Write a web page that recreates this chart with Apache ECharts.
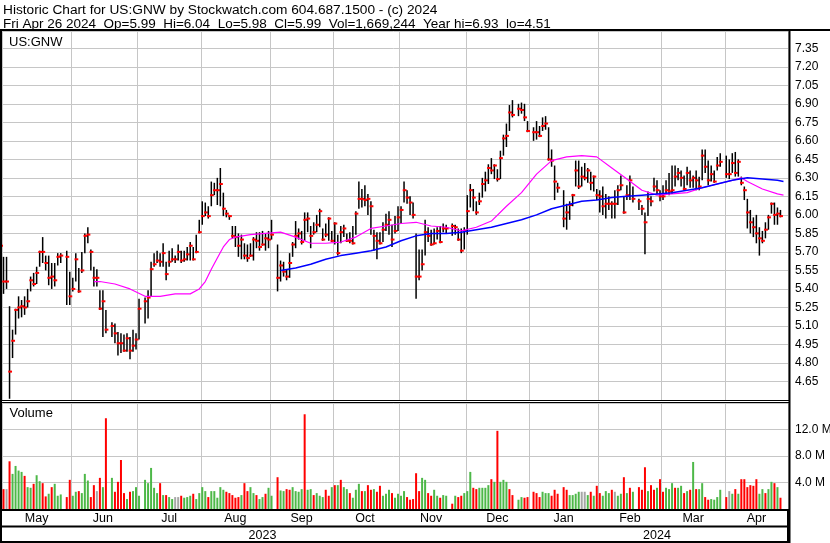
<!DOCTYPE html>
<html>
<head>
<meta charset="utf-8">
<script src="https://cdn.jsdelivr.net/npm/echarts@6/dist/echarts.min.js"></script>
<style>
html,body{margin:0;padding:0;background:#fff;}
#chart{width:830px;height:543px;}
</style>
</head>
<body>
<div id="chart"></div>
<script>
// ---------------- DATA ----------------
const titleLine1 = 'Historic Chart for US:GNW by Stockwatch.com 604.687.1500 - (c) 2024';
const titleLine2 = 'Fri Apr 26 2024  Op=5.99  Hi=6.04  Lo=5.98  Cl=5.99  Vol=1,669,244  Year hi=6.93  lo=4.51';
const symbolLabel = 'US:GNW';
const volumeLabel = 'Volume';
const monthNames = ['Jan','Feb','Mar','Apr','May','Jun','Jul','Aug','Sep','Oct','Nov','Dec'];

// trading-day slots (weekdays), holidays are empty slots
const holidays = ['2023-05-29','2023-06-19','2023-07-04','2023-09-04','2023-11-23','2023-12-25',
                  '2024-01-01','2024-01-15','2024-02-19','2024-03-29'];

const high = [
5.86,5.66,5.66,5.26,5.07,5.24,5.34,5.31,5.34,5.40,
5.50,5.53,5.58,5.71,5.82,5.67,5.67,5.61,5.61,5.69,
5.69,null,5.71,5.54,5.49,5.69,5.57,5.70,5.85,5.90,
5.72,5.58,5.56,5.39,5.39,5.23,null,5.13,5.12,5.05,
5.04,5.03,5.04,5.01,5.07,5.04,5.32,null,5.33,5.39,
5.62,5.69,5.71,5.69,5.77,5.62,5.71,5.73,5.67,5.76,
5.71,5.71,5.74,5.78,5.74,5.84,5.96,6.11,6.10,6.07,
6.27,6.26,6.30,6.38,6.18,6.04,6.00,5.91,5.91,5.85,
5.84,5.77,5.76,5.77,5.82,5.86,5.86,5.87,5.85,5.87,
5.96,null,5.76,5.63,5.62,5.56,5.69,5.78,5.95,5.89,
5.87,6.02,6.02,5.91,5.94,6.00,6.05,5.89,5.93,5.98,
5.87,5.94,5.84,5.91,5.92,5.85,5.86,5.91,6.03,6.27,
6.21,6.24,6.17,6.11,5.88,5.86,5.86,5.94,6.01,6.03,
5.92,5.99,6.07,6.07,6.27,6.20,6.15,6.10,5.85,5.72,
5.72,5.96,5.90,5.88,5.89,5.90,5.91,5.93,5.92,null,
5.93,5.92,5.89,5.89,5.90,6.16,6.25,6.21,6.11,6.18,
6.30,6.35,6.41,6.46,6.41,6.37,6.52,6.65,6.74,6.89,
6.93,null,6.90,6.91,6.90,6.76,null,6.71,6.76,6.72,
6.79,6.80,6.71,6.53,6.40,6.26,null,6.20,6.09,6.11,
6.17,6.44,6.44,6.39,6.42,6.38,6.35,6.32,6.21,6.20,
6.23,6.17,6.15,6.11,6.20,6.24,6.32,6.15,6.24,6.32,
6.23,null,6.13,6.08,6.02,6.19,6.15,6.30,6.28,6.20,
6.24,6.28,6.34,6.40,6.40,6.38,6.36,6.32,6.39,6.36,
6.32,6.36,6.31,6.53,6.53,6.44,6.40,6.36,6.47,6.50,
null,6.48,6.45,6.50,6.51,6.45,6.31,6.23,6.13,6.04,
5.98,6.00,5.90,5.87,5.94,6.00,6.10,6.10,6.06,6.04
];
const low = [
5.36,5.36,5.40,4.51,4.84,5.03,5.16,5.17,5.19,5.25,
5.38,5.42,5.44,5.58,5.61,5.55,5.43,5.40,5.42,5.59,
5.61,null,5.27,5.27,5.38,5.46,5.37,5.53,5.69,5.77,
5.55,5.42,5.42,5.23,5.01,5.04,null,5.01,4.96,4.86,
4.88,4.89,4.89,4.83,4.89,4.91,4.99,null,5.12,5.16,
5.34,5.58,5.61,5.58,5.58,5.47,5.58,5.62,5.61,5.63,
5.61,5.62,5.63,5.63,5.63,5.69,5.85,5.92,5.99,5.97,
6.07,6.16,6.08,6.07,5.99,5.98,5.96,5.81,5.74,5.66,
5.64,5.64,5.62,5.66,5.63,5.73,5.71,5.75,5.71,5.73,
5.80,null,5.38,5.46,5.50,5.47,5.49,5.66,5.73,5.80,
5.76,5.79,5.86,5.73,5.84,5.86,5.90,5.79,5.82,5.79,
5.78,5.76,5.67,5.77,5.82,5.78,5.77,5.76,5.84,6.05,
6.06,6.07,6.00,5.84,5.71,5.64,5.76,5.78,5.87,5.84,
5.74,5.85,5.87,5.93,6.10,6.09,6.00,5.97,5.32,5.47,
5.55,5.67,5.78,5.75,5.76,5.80,5.77,5.86,5.85,null,
5.83,5.84,5.79,5.69,5.72,5.84,6.06,6.03,6.00,6.08,
6.14,6.19,6.25,6.33,6.29,6.27,6.29,6.48,6.55,6.68,
6.79,null,6.80,6.82,6.76,6.67,null,6.60,6.61,6.63,
6.68,6.69,6.44,6.39,6.12,6.18,null,5.90,5.88,5.96,
6.07,6.23,6.21,6.23,6.28,6.26,6.20,6.19,6.12,6.02,
6.00,5.97,6.04,5.97,5.97,6.08,6.20,6.01,6.12,6.12,
6.10,null,6.04,6.00,5.68,5.99,6.07,6.19,6.17,6.11,
6.12,6.17,6.16,6.17,6.23,6.28,6.23,6.20,6.24,6.22,
6.22,6.20,6.20,6.28,6.34,6.24,6.27,6.26,6.36,6.39,
null,6.30,6.29,6.34,6.31,6.31,6.24,6.12,5.89,5.85,
5.82,5.77,5.67,5.77,5.81,5.88,6.01,5.92,5.92,5.98
];
const close = [
5.75,5.46,5.46,4.73,4.98,5.23,5.25,5.26,5.25,5.30,
5.47,5.44,5.53,5.70,5.70,5.61,5.49,5.50,5.47,5.66,
5.67,null,5.66,5.34,5.40,5.64,5.38,5.55,5.83,5.84,
5.70,5.49,5.49,5.24,5.30,5.07,null,5.10,5.04,4.96,
4.96,4.90,5.00,4.90,4.94,4.99,5.24,null,5.30,5.33,
5.56,5.60,5.63,5.62,5.69,5.52,5.62,5.64,5.64,5.70,
5.63,5.64,5.68,5.75,5.64,5.70,5.86,5.99,6.02,5.99,
6.16,6.20,6.20,6.25,6.05,6.01,5.99,5.83,5.82,5.75,
5.80,5.67,5.65,5.67,5.80,5.79,5.74,5.76,5.81,5.80,
5.84,null,5.49,5.59,5.54,5.50,5.61,5.76,5.83,5.85,
5.78,5.96,5.97,5.83,5.86,5.92,6.03,5.80,5.84,5.97,
5.79,5.93,5.69,5.86,5.89,5.79,5.79,5.77,6.01,6.13,
6.13,6.12,6.13,6.07,5.83,5.79,5.77,5.88,5.92,5.96,
5.80,5.87,5.98,6.04,6.20,6.14,6.10,6.00,5.50,5.50,
5.60,5.86,5.83,5.76,5.77,5.87,5.78,5.89,5.89,null,
5.91,5.90,5.80,5.71,5.87,6.03,6.20,6.14,6.02,6.11,
6.25,6.28,6.38,6.36,6.40,6.29,6.46,6.62,6.64,6.83,
6.81,null,6.86,6.85,6.79,6.68,null,6.67,6.67,6.64,
6.72,6.74,6.45,6.44,6.27,6.22,null,5.97,6.02,6.08,
6.16,6.36,6.23,6.31,6.30,6.36,6.26,6.31,6.16,6.15,
6.07,6.09,6.09,6.09,6.09,6.20,6.24,6.02,6.16,6.28,
6.13,null,6.11,6.05,5.94,6.13,6.11,6.23,6.20,6.15,
6.15,6.20,6.19,6.20,6.31,6.34,6.30,6.21,6.34,6.28,
6.30,6.28,6.23,6.48,6.39,6.28,6.33,6.27,6.40,6.43,
null,6.33,6.33,6.42,6.34,6.43,6.26,6.20,6.02,5.94,
5.90,5.85,5.81,5.79,5.88,5.98,6.09,6.00,6.01,5.99
];
// volume in millions of shares
const volume = [
2.0,3.0,3.0,7.2,5.3,6.5,5.8,5.6,5.0,3.3,
3.2,3.8,5.1,4.2,3.9,1.9,2.3,3.3,3.8,2.0,
2.2,null,1.8,4.4,2.0,2.6,2.7,2.4,5.3,4.3,
1.8,3.6,2.7,4.7,3.3,13.7,null,4.7,2.6,4.1,
7.4,2.4,1.5,2.6,2.7,3.3,2.0,null,4.4,3.9,
6.2,3.2,2.4,3.9,2.1,2.1,1.8,1.5,1.8,1.8,
2.0,1.7,1.8,2.0,2.3,1.5,2.4,3.3,2.7,1.8,
2.7,2.7,1.7,3.3,2.9,2.6,2.4,2.1,1.7,1.8,
2.1,3.9,2.7,3.3,2.4,2.1,1.5,1.8,2.3,3.2,
2.0,null,4.8,2.8,2.7,3.0,2.9,3.3,2.7,2.6,
3.0,14.3,2.9,3.0,2.1,2.4,2.0,1.8,2.9,2.0,
3.3,3.6,3.6,4.4,3.3,3.0,2.4,1.7,2.9,3.8,
2.7,2.7,3.6,2.9,3.0,2.6,3.5,2.0,2.3,2.9,
2.4,1.7,2.3,2.0,2.7,1.8,1.4,1.5,5.4,2.7,
4.7,4.4,2.4,2.0,2.9,2.0,1.7,2.1,2.0,null,
0.8,2.0,1.8,2.0,2.4,2.7,5.6,3.2,3.0,3.2,
3.2,3.2,3.6,4.5,4.1,11.8,4.1,4.4,4.1,3.0,
2.1,null,1.4,1.8,1.7,1.8,null,2.6,2.4,1.8,
2.6,2.4,2.4,2.0,2.9,2.3,null,3.3,2.9,2.1,
2.1,2.3,2.6,2.6,2.6,2.1,2.6,2.0,3.5,2.4,
2.0,2.7,2.4,2.9,2.6,2.0,2.3,4.8,2.4,3.2,
2.6,null,3.3,2.9,6.3,2.7,3.6,2.9,3.2,4.5,
2.6,3.2,3.0,3.9,3.2,3.2,3.5,2.4,2.7,2.9,
7.1,3.0,3.0,3.9,1.8,1.4,1.5,1.4,1.8,2.9,
null,1.8,2.7,2.3,3.0,2.3,4.5,4.5,3.3,3.6,
3.5,4.5,2.3,3.0,2.4,3.0,4.1,3.9,3.3,1.7
];
// u = close up (green), d = close down (red), n = unchanged (grey), - = holiday
const volDir =
 'ndnduuuudu' + 'uduudduduu' + 'u-dduuduuu' + 'ddndud-udd' + 'dduduuu-uu' +
 'uuududuunn' + 'duuuduuuud' + 'uuuuuddddd' + 'udduuduudu' + 'u-duudduuu' +
 'uduuduuudd' + 'ududuuduuu' + 'duddudduuu' + 'duuuuddddd' + 'uudduuduu-' +
 'dudduuuddu' + 'uuududuuud' + 'd-uudd-ddd' + 'uuuddd-ddu' + 'uuunnududd' +
 'uuudnuudud' + 'u-ddduddud' + 'duuuduudud' + 'uduudduuuu' + '-dnududddd' +
 'dduuduudud';

// moving averages
const maShort = [
['2023-06-12',5.46],['2023-06-14',5.46],['2023-06-21',5.44],['2023-06-28',5.40],['2023-07-05',5.34],
['2023-07-12',5.34],['2023-07-19',5.36],['2023-07-26',5.36],['2023-07-31',5.40],['2023-08-02',5.46],
['2023-08-04',5.56],['2023-08-08',5.65],['2023-08-10',5.74],['2023-08-14',5.80],['2023-08-16',5.82],
['2023-08-23',5.84],['2023-08-30',5.85],['2023-09-06',5.86],['2023-09-13',5.82],['2023-09-20',5.77],
['2023-09-27',5.77],['2023-10-04',5.78],['2023-10-11',5.82],['2023-10-18',5.89],['2023-10-25',5.91],
['2023-11-01',5.93],['2023-11-08',5.94],['2023-11-15',5.91],['2023-11-22',5.90],['2023-11-29',5.87],
['2023-12-06',5.90],['2023-12-13',5.95],['2023-12-20',6.07],['2023-12-27',6.18],['2024-01-03',6.33],
['2024-01-10',6.44],['2024-01-17',6.47],['2024-01-24',6.48],['2024-01-31',6.47],['2024-02-07',6.38],
['2024-02-14',6.29],['2024-02-21',6.20],['2024-02-28',6.16],['2024-03-06',6.17],['2024-03-13',6.18],
['2024-03-20',6.22],['2024-03-27',6.25],['2024-04-03',6.28],['2024-04-08',6.30],['2024-04-10',6.27],
['2024-04-17',6.21],['2024-04-24',6.17],['2024-04-26',6.16]
];
const maLong = [
['2023-09-06',5.55],['2023-09-13',5.57],['2023-09-20',5.60],['2023-09-27',5.64],['2023-10-04',5.67],
['2023-10-11',5.69],['2023-10-18',5.71],['2023-10-25',5.74],['2023-11-01',5.79],['2023-11-08',5.83],
['2023-11-15',5.85],['2023-11-22',5.85],['2023-11-29',5.86],['2023-12-06',5.88],['2023-12-13',5.90],
['2023-12-20',5.93],['2023-12-27',5.96],['2024-01-03',6.00],['2024-01-10',6.05],['2024-01-17',6.08],
['2024-01-24',6.11],['2024-01-31',6.12],['2024-02-07',6.14],['2024-02-14',6.15],['2024-02-21',6.16],
['2024-02-28',6.17],['2024-03-06',6.18],['2024-03-13',6.20],['2024-03-20',6.22],['2024-03-27',6.25],
['2024-04-03',6.28],['2024-04-10',6.30],['2024-04-17',6.29],['2024-04-24',6.28],['2024-04-26',6.27]
];

// ---------------- BUILD ----------------
const dates = [];
for (let t = Date.UTC(2023, 3, 28); t <= Date.UTC(2024, 3, 29); t += 86400000) {
  const d = new Date(t), w = d.getUTCDay();
  if (w !== 0 && w !== 6) dates.push(d.toISOString().slice(0, 10));
}
const groups = [];
dates.forEach((d, i) => {
  const m = d.slice(0, 7);
  if (!groups.length || groups[groups.length - 1].m !== m) groups.push({ m, first: i, last: i });
  else groups[groups.length - 1].last = i;
});
const monthStart = new Set(), monthLabel = new Set();
groups.forEach((g, k) => {
  if (k === 0) return;
  monthStart.add(g.first);
  monthLabel.add(Math.floor((g.first + g.last) / 2));
});
const years = {};
dates.forEach((d, i) => { const y = d.slice(0, 4); if (!years[y]) years[y] = { first: i, last: i }; else years[y].last = i; });
const yearLabel = new Set(Object.values(years).map(g => Math.floor((g.first + g.last) / 2)));
const yearStart = years['2024'].first;

const priceData = [];
for (let i = 0; i < close.length; i++) {
  if (close[i] != null) priceData.push([i, high[i], low[i], close[i]]);
}
const dirColor = { u: '#4db848', d: '#ff0000', n: '#a6a6a6' };
const volData = dates.map((d, i) => (i < volume.length && volume[i] != null)
  ? { value: volume[i], itemStyle: { color: dirColor[volDir[i]] } } : '-');

const FONT = "'Liberation Sans', Arial, Helvetica, sans-serif";
const GRIDC = '#c6c6c6';
const L = -1, R = 42;

function catAxis(gridIndex, extra) {
  return Object.assign({
    type: 'category', gridIndex, data: dates, boundaryGap: true,
    axisLine: { show: false }, axisTick: { show: false }, axisLabel: { show: false },
    splitLine: { show: true, interval: (i) => monthStart.has(i), lineStyle: { color: GRIDC, width: 1 } }
  }, extra || {});
}

const chart = echarts.init(document.getElementById('chart'), null, { renderer: 'canvas' });
chart.setOption({
  animation: false,
  backgroundColor: '#fff',
  grid: [
    { left: L, right: R, top: 31, height: 369, containLabel: false, outerBoundsMode: 'none' },
    { left: L, right: R, top: 403, height: 106, containLabel: false, outerBoundsMode: 'none' },
    { left: L, right: R, top: 510, height: 16, containLabel: false, outerBoundsMode: 'none' },
    { left: L, right: R, top: 526, height: 16, containLabel: false, outerBoundsMode: 'none' }
  ],
  xAxis: [
    catAxis(0),
    catAxis(1),
    catAxis(2, {
      position: 'top',
      axisLabel: { show: true, inside: true, margin: 2.5, interval: (i) => monthLabel.has(i),
        formatter: (v) => monthNames[+v.slice(5, 7) - 1], fontSize: 12.5, color: '#000', fontFamily: FONT },
      splitLine: { show: true, interval: (i) => i === yearStart, lineStyle: { color: '#000', width: 2 } }
    }),
    catAxis(3, {
      position: 'top',
      axisLabel: { show: true, inside: true, margin: 3.5, interval: (i) => yearLabel.has(i),
        formatter: (v) => v.slice(0, 4), fontSize: 12.5, color: '#000', fontFamily: FONT },
      splitLine: { show: true, interval: (i) => i === yearStart, lineStyle: { color: '#000', width: 2 } }
    })
  ],
  yAxis: [
    { type: 'value', gridIndex: 0, position: 'right', min: 4.5, max: 7.49, interval: 0.15,
      axisLine: { show: false }, axisTick: { show: false },
      axisLabel: { margin: 7, fontSize: 12, color: '#000', fontFamily: FONT,
        formatter: (v) => (v < 4.6 || v > 7.4) ? '' : v.toFixed(2) },
      splitLine: { show: true, lineStyle: { color: GRIDC, width: 1 } } },
    { type: 'value', gridIndex: 1, position: 'right', min: 0, max: 16, interval: 4,
      axisLine: { show: false }, axisTick: { show: false },
      axisLabel: { margin: 7, fontSize: 12, color: '#000', fontFamily: FONT,
        formatter: (v) => (v < 1 || v > 15) ? '' : v.toFixed(1) + ' M' },
      splitLine: { show: true, lineStyle: { color: GRIDC, width: 1 } } },
    { type: 'value', gridIndex: 2, show: false },
    { type: 'value', gridIndex: 3, show: false }
  ],
  series: [
    { type: 'custom', name: 'price', xAxisIndex: 0, yAxisIndex: 0, clip: true, z: 2, silent: true,
      encode: { x: 0, y: [1, 2, 3] },
      data: priceData,
      renderItem: function (params, api) {
        const i = api.value(0);
        const ph = api.coord([i, api.value(1)]);
        const pl = api.coord([i, api.value(2)]);
        const pc = api.coord([i, api.value(3)]);
        return { type: 'group', children: [
          { type: 'line', shape: { x1: ph[0], y1: ph[1], x2: ph[0], y2: pl[1] },
            style: { stroke: '#000', lineWidth: 1.5 } },
          { type: 'rect', shape: { x: pc[0] - 1.3, y: pc[1] - 1, width: 3.8, height: 2 },
            style: { fill: '#ff0000' } }
        ] };
      } },
    { type: 'line', name: 'maShort', xAxisIndex: 0, yAxisIndex: 0, data: maShort, showSymbol: false,
      symbol: 'none', z: 3, silent: true, lineStyle: { color: '#ff00ff', width: 1.2 } },
    { type: 'line', name: 'maLong', xAxisIndex: 0, yAxisIndex: 0, data: maLong, showSymbol: false,
      symbol: 'none', z: 3, silent: true, lineStyle: { color: '#0000ff', width: 1.5 } },
    { type: 'bar', name: 'volume', xAxisIndex: 1, yAxisIndex: 1, data: volData, barWidth: 2,
      silent: true, z: 2 }
  ],
  graphic: [
    { type: 'text', x: 3, y: 3, silent: true, style: { text: titleLine1, font: "13.7px " + FONT, fill: '#000', verticalAlign: 'top', textVerticalAlign: 'top' } },
    { type: 'text', x: 3, y: 17, silent: true, style: { text: titleLine2, font: "13.5px " + FONT, fill: '#000', verticalAlign: 'top', textVerticalAlign: 'top' } },
    { type: 'text', x: 9, y: 35.5, z: 50, silent: true, style: { text: symbolLabel, font: "13px " + FONT, fill: '#000', verticalAlign: 'top', textVerticalAlign: 'top' } },
    { type: 'text', x: 9.5, y: 406.5, z: 50, silent: true, style: { text: volumeLabel, font: "13px " + FONT, fill: '#000', verticalAlign: 'top', textVerticalAlign: 'top' } },
    // frame
    { type: 'rect', z: 100, silent: true, shape: { x: 0, y: 29, width: 830, height: 2 }, style: { fill: '#000' } },
    { type: 'rect', z: 100, silent: true, shape: { x: 0, y: 29, width: 2, height: 514 }, style: { fill: '#000' } },
    { type: 'rect', z: 100, silent: true, shape: { x: 788.5, y: 29, width: 2, height: 514 }, style: { fill: '#000' } },
    { type: 'rect', z: 100, silent: true, shape: { x: 0, y: 400, width: 790, height: 1 }, style: { fill: '#000' } },
    { type: 'rect', z: 100, silent: true, shape: { x: 0, y: 402, width: 790, height: 1 }, style: { fill: '#000' } },
    { type: 'rect', z: 100, silent: true, shape: { x: 0, y: 509, width: 790, height: 2 }, style: { fill: '#000' } },
    { type: 'rect', z: 100, silent: true, shape: { x: 0, y: 525.5, width: 790, height: 2 }, style: { fill: '#000' } },
    { type: 'rect', z: 100, silent: true, shape: { x: 0, y: 541, width: 790, height: 2 }, style: { fill: '#000' } }
  ]
});
</script>
</body>
</html>
